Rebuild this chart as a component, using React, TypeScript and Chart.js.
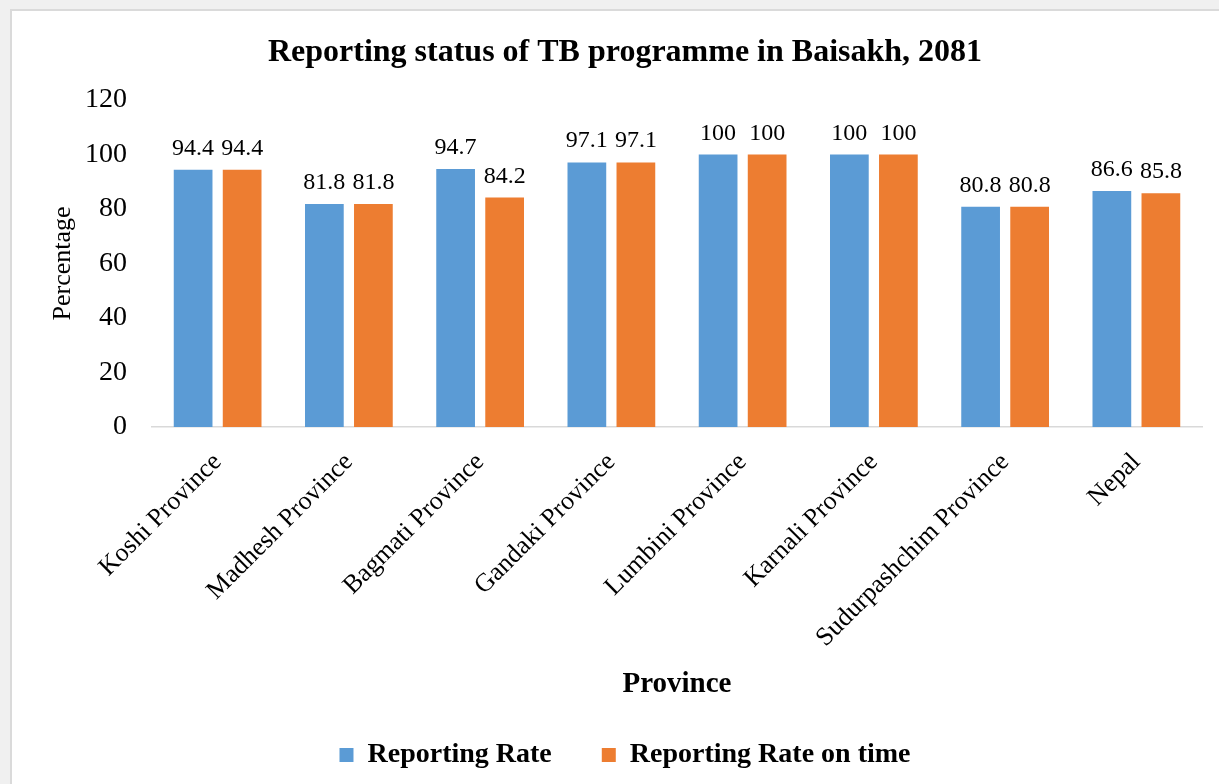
import React, { useEffect, useRef } from "react";
import { Chart, registerables } from "chart.js";

Chart.register(...registerables);

const categories = [
  "Koshi Province",
  "Madhesh Province",
  "Bagmati Province",
  "Gandaki Province",
  "Lumbini Province",
  "Karnali Province",
  "Sudurpashchim Province",
  "Nepal",
];
const reportingRate = [94.4, 81.8, 94.7, 97.1, 100, 100, 80.8, 86.6];
const reportingRateOnTime = [94.4, 81.8, 84.2, 97.1, 100, 100, 80.8, 85.8];
const seriesNames = ["Reporting Rate", "Reporting Rate on time"];
const seriesColors = ["#5B9BD5", "#ED7D31"];
const yTicks = [0, 20, 40, 60, 80, 100, 120];

const SERIF = '"Liberation Serif", "Times New Roman", Times, serif';

const dataLabelPlugin = {
  id: "dataLabels",
  afterDatasetsDraw(chart: any) {
    const ctx = chart.ctx;
    ctx.save();
    ctx.font = `24px ${SERIF}`;
    ctx.fillStyle = "#000";
    ctx.textAlign = "center";
    ctx.textBaseline = "alphabetic";
    chart.data.datasets.forEach((ds: any, di: number) => {
      const meta = chart.getDatasetMeta(di);
      meta.data.forEach((bar: any, i: number) => {
        const v = ds.data[i];
        ctx.fillText(String(v), bar.x, bar.y - 15);
      });
    });
    ctx.restore();
  },
};

export default function App() {
  const ref = useRef<HTMLCanvasElement | null>(null);

  useEffect(() => {
    if (!ref.current) return;
    const chart = new Chart(ref.current, {
      type: "bar",
      data: {
        labels: categories,
        datasets: [
          {
            label: seriesNames[0],
            data: reportingRate,
            backgroundColor: seriesColors[0],
            categoryPercentage: 0.747,
            barPercentage: 0.79,
          },
          {
            label: seriesNames[1],
            data: reportingRateOnTime,
            backgroundColor: seriesColors[1],
            categoryPercentage: 0.747,
            barPercentage: 0.79,
          },
        ],
      },
      options: {
        responsive: false,
        animation: false,
        devicePixelRatio: 1,
        layout: { padding: { left: 48, right: 17, top: 10, bottom: 5 } },
        plugins: {
          title: {
            display: true,
            text: "Reporting status of TB programme in Baisakh, 2081",
            color: "#000",
            font: { family: SERIF, size: 32, weight: "bold" },
            padding: { top: 24, bottom: 27.6 },
          },
          legend: {
            display: true,
            position: "bottom",
            labels: {
              color: "#000",
              font: { family: SERIF, size: 28, weight: "bold" },
              boxWidth: 14,
              boxHeight: 14,
              padding: 50,
            },
          },
          tooltip: { enabled: false },
        },
        scales: {
          x: {
            grid: { display: false, drawTicks: false },
            border: { display: true, color: "#d9d9d9", width: 1.5 },
            ticks: {
              color: "#000",
              font: { family: SERIF, size: 26 },
              maxRotation: 45,
              minRotation: 45,
              autoSkip: false,
              padding: 20,
            },
            title: {
              display: true,
              text: "Province",
              color: "#000",
              font: { family: SERIF, size: 29, weight: "bold" },
              padding: { top: 0, bottom: -11 },
            },
            afterFit(scale: any) {
              scale.height = 264;
            },
          },
          y: {
            min: 0,
            max: 120,
            grid: { display: false, drawTicks: false },
            border: { display: false },
            ticks: {
              color: "#000",
              font: { family: SERIF, size: 28 },
              stepSize: 20,
              padding: 25,
              callback: (v: any) => (yTicks.includes(Number(v)) ? String(v) : ""),
            },
            title: {
              display: true,
              text: "Percentage",
              color: "#000",
              font: { family: SERIF, size: 26 },
              padding: { top: 0, bottom: 0 },
            },
            afterFit(scale: any) {
              scale.width = 152 - 48;
            },
          },
        },
      },
      plugins: [dataLabelPlugin],
    });
    return () => chart.destroy();
  }, []);

  return (
    <div
      style={{
        position: "fixed",
        left: 0,
        top: 0,
        width: 1219,
        height: 784,
        background: "#f0f0f0",
        overflow: "hidden",
      }}
    >
      <div
        style={{
          position: "absolute",
          left: 10,
          top: 9,
          right: 0,
          bottom: 0,
          background: "#fff",
          borderLeft: "2px solid #dadada",
          borderTop: "2px solid #dadada",
          boxSizing: "border-box",
        }}
      />
      <canvas
        ref={ref}
        width={1219}
        height={784}
        style={{ position: "absolute", left: 0, top: 0, display: "block" }}
      />
    </div>
  );
}
